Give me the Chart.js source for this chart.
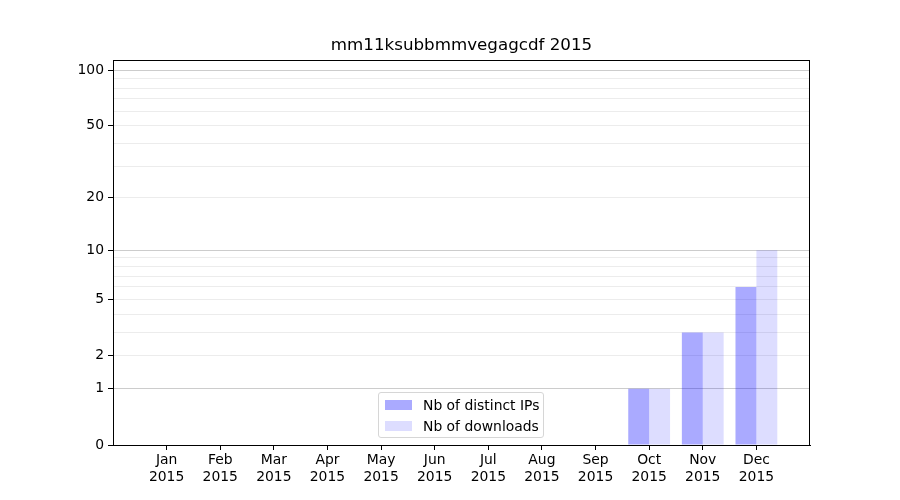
<!DOCTYPE html>
<html>
<head>
<meta charset="utf-8">
<script src="https://cdn.jsdelivr.net/npm/chart.js@4.4.0/dist/chart.umd.min.js"></script>
<style>
    body { margin: 0; background: #fff; }
    #wrap { position: relative; width: 900px; height: 500px; }
    #legend {
        position: absolute; left: 378px; top: 392px; width: 164px; height: 44px;
        border: 1px solid #d6d6d6; border-radius: 3px; background: rgba(255,255,255,0.8);
        font-family: "DejaVu Sans", sans-serif; font-size: 13.9px; color: #000;
    }
    .item { position: absolute; left: 6px; height: 14px; display: flex; align-items: center; }
    .swatch { width: 27px; height: 10px; margin-right: 11px; }
</style>
</head>
<body>
<div id="wrap">
    <canvas id="mainChart" width="900" height="500"></canvas>
    <div id="legend">
        <div class="item" style="top:5px"><span class="swatch" style="background:rgba(0,0,255,0.333)"></span>Nb of distinct IPs</div>
        <div class="item" style="top:26px"><span class="swatch" style="background:rgba(0,0,255,0.133)"></span>Nb of downloads</div>
    </div>
</div>
<script>
// Data
const title = 'mm11ksubbmmvegagcdf 2015';
const year = '2015';
const months = ['Jan', 'Feb', 'Mar', 'Apr', 'May', 'Jun', 'Jul', 'Aug', 'Sep', 'Oct', 'Nov', 'Dec'];
const distinctIPs = [0, 0, 0, 0, 0, 0, 0, 0, 0, 1, 3, 6];
const downloads = [0, 0, 0, 0, 0, 0, 0, 0, 0, 1, 3, 10];
const yTickLabels = [0, 1, 2, 5, 10, 20, 50, 100];
const yMinorTicks = [3, 4, 6, 7, 8, 9, 30, 40, 60, 70, 80, 90];
const yTop = 113.5;

// y axis is log10(1 + v)
const tf = v => Math.log10(1 + v);
const untf = t => Math.round(Math.pow(10, t) - 1);

const labels = [''].concat(months.map(m => [m, year]), ['']);
const pad = arr => [null].concat(arr.map(tf), [null]);
const gridVals = yTickLabels.concat(yMinorTicks).sort((a, b) => a - b);
const font = { family: 'DejaVu Sans', size: 13.9 };

// frame + title centred on the plot area
const framePlugin = {
    id: 'frame',
    afterDraw(chart) {
        const a = chart.chartArea, c = chart.ctx;
        c.save();
        c.strokeStyle = '#000';
        c.lineWidth = 1;
        c.strokeRect(Math.round(a.left) + 0.5, Math.round(a.top) + 0.5,
            Math.round(a.right - a.left) - 1, Math.round(a.bottom - a.top));
        c.fillStyle = '#000';
        c.font = '16.7px "DejaVu Sans"';
        c.textAlign = 'center';
        c.textBaseline = 'middle';
        c.fillText(title, (a.left + a.right) / 2, 46);
        c.restore();
    }
};

const ctx = document.getElementById('mainChart');
new Chart(ctx, {
    type: 'bar',
    data: {
        labels: labels,
        datasets: [{
            label: 'Nb of distinct IPs',
            data: pad(distinctIPs),
            backgroundColor: 'rgba(0, 0, 255, 0.333)',
            categoryPercentage: 0.78,
            barPercentage: 1
        }, {
            label: 'Nb of downloads',
            data: pad(downloads),
            backgroundColor: 'rgba(0, 0, 255, 0.133)',
            categoryPercentage: 0.78,
            barPercentage: 1
        }]
    },
    options: {
        responsive: false,
        animation: false,
        layout: { padding: { left: 0, right: 90, top: 60, bottom: 0 } },
        plugins: {
            legend: { display: false },
            tooltip: { enabled: false },
            title: { display: false }
        },
        scales: {
            x: {
                offset: false,
                border: { display: true, color: '#000' },
                grid: {
                    offset: false,
                    drawOnChartArea: false,
                    tickLength: 5,
                    tickColor: c => (c.index === 0 || c.index === labels.length - 1) ? 'rgba(0,0,0,0)' : '#000'
                },
                ticks: { color: '#000', font: font, autoSkip: false, maxRotation: 0, padding: 2 },
                afterFit: s => { s.height = 55; }
            },
            y: {
                min: 0,
                max: tf(yTop),
                border: { display: true, color: '#000' },
                afterBuildTicks: s => { s.ticks = gridVals.map(v => ({ value: tf(v) })); },
                grid: {
                    color: c => {
                        const v = untf(c.tick.value);
                        if (v === 0) return 'rgba(0,0,0,0)';
                        if (v === 1 || v === 10 || v === 100) return '#cccccc';
                        return '#ececec';
                    },
                    tickLength: 5,
                    tickColor: c => yTickLabels.includes(untf(c.tick.value)) ? '#000' : 'rgba(0,0,0,0)'
                },
                ticks: {
                    color: '#000',
                    font: font,
                    autoSkip: false,
                    padding: 4,
                    callback: v => yTickLabels.includes(untf(v)) ? String(untf(v)) : ''
                },
                afterFit: s => { s.width = 113; }
            }
        }
    },
    plugins: [framePlugin]
});
</script>
</body>
</html>
